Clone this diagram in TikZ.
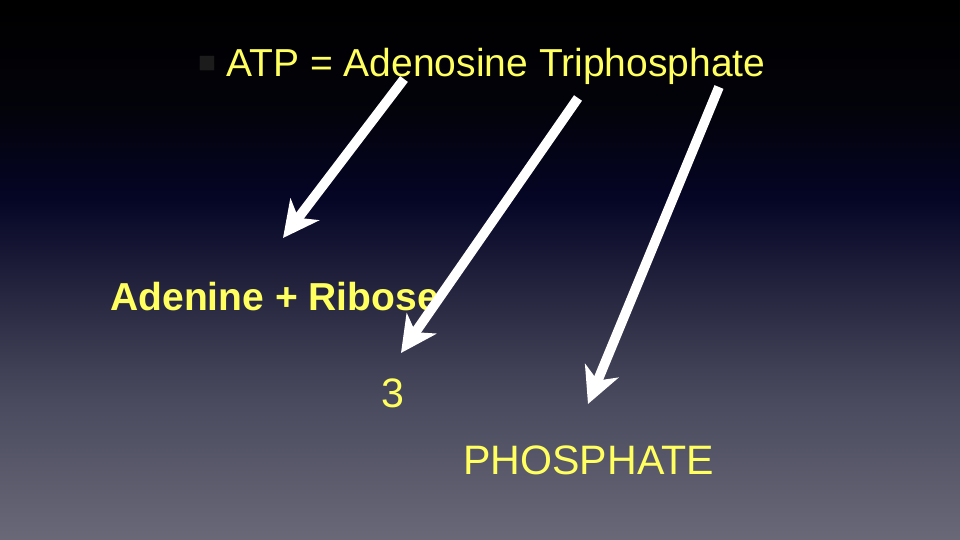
\documentclass[tikz,border=0pt]{standalone}
\usepackage{fontspec}
\setmainfont{Liberation Sans}
\newfontfamily\symfont{DejaVu Sans}
\usetikzlibrary{arrows.meta,positioning}
\definecolor{slideyellow}{RGB}{255,255,96}
\definecolor{bulletgray}{RGB}{28,28,28}
\pgfdeclareverticalshading{slidebg}{100bp}{%
  rgb(0bp)=(0.41,0.41,0.47);
  rgb(25bp)=(0.41,0.41,0.47);
  rgb(38bp)=(0.29,0.29,0.37);
  rgb(47bp)=(0.16,0.16,0.26);
  rgb(56.5bp)=(0.02,0.02,0.15);
  rgb(65bp)=(0.01,0.01,0.04);
  rgb(75bp)=(0,0,0);
  rgb(100bp)=(0,0,0)}
\tikzset{label/.style={text=slideyellow, inner sep=0pt, font=\fontsize{18.5}{22}\selectfont}}
\tikzset{boldlabel/.style={label, font=\fontsize{18.5}{22}\selectfont\bfseries}}
\tikzset{line/.style={draw=white, line width=4.6pt, -{Stealth[length=17pt, width=17pt, inset=5pt]}}}

\begin{document}
\begin{tikzpicture}[x=0.016667cm, y=-0.016667cm]
        \shade[shading=slidebg] (0,0) rectangle (960,540);
        \useasboundingbox (0,0) rectangle (960,540);

        \node[inner sep=0pt, text=bulletgray, font=\symfont\fontsize{9}{11}\selectfont] (bull) at (207,64) {■};
        \node[label, anchor=base west]      (atp) at (226,77) {ATP = Adenosine Triphosphate};
        \node[boldlabel, anchor=base west]  (base) at (110,311) {Adenine + Ribose};
        \node[label, anchor=base, font=\fontsize{19.5}{22}\selectfont] (three) at (393,408) {3};
        \node[label, anchor=base west, font=\fontsize{19.5}{22}\selectfont] (phos) at (463,475) {PHOSPHATE};

        \coordinate (t1) at (404,79);
        \coordinate (h1) at (283,238);
        \coordinate (t2) at (578,98);
        \coordinate (h2) at (401,353);
        \coordinate (t3) at (719,87);
        \coordinate (h3) at (588,404);

        \path[line] (t1) -- (h1);
        \path[line] (t2) -- (h2);
        \path[line] (t3) -- (h3);
\end{tikzpicture}
\end{document}
